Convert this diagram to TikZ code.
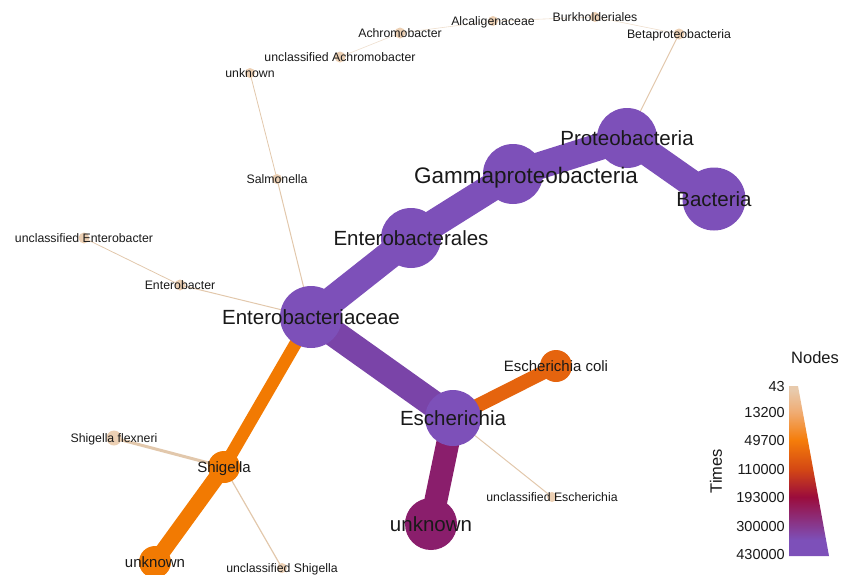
\documentclass[tikz,border=0pt]{standalone}
\usepackage{fontspec}
\setmainfont{Liberation Sans}
\usetikzlibrary{backgrounds}

% node / edge colours
\definecolor{taxpurple}{RGB}{125,80,185}
\definecolor{edgepurple}{RGB}{122,68,168}
\definecolor{taxmagenta}{RGB}{138,30,108}
\definecolor{taxorange}{RGB}{242,122,2}
\definecolor{taxdarkorange}{RGB}{229,100,14}
\definecolor{taxtan}{RGB}{236,208,180}
\definecolor{edgetan}{RGB}{226,200,172}
\definecolor{labelink}{RGB}{25,25,25}

% legend ramp (bottom to top)
\definecolor{rampE}{RGB}{125,80,185}
\definecolor{rampD}{RGB}{155,12,60}
\definecolor{rampC}{RGB}{212,72,20}
\definecolor{rampB}{RGB}{245,125,10}
\definecolor{rampAB}{RGB}{240,172,115}
\definecolor{rampA}{RGB}{232,202,172}
\pgfdeclareverticalshading{timesramp}{100bp}{color(0bp)=(rampE); color(25bp)=(rampE); color(29.7bp)=(rampE); color(42.4bp)=(rampD); color(50.6bp)=(rampC); color(59.1bp)=(rampB); color(67.4bp)=(rampAB); color(73.8bp)=(rampA); color(100bp)=(rampA)}

\begin{document}
\begin{tikzpicture}[x=1pt, y=-1pt,
        taxon/.style={circle, fill=#1, draw=none, inner sep=0pt},
        link/.style={draw=#1, line cap=round},
        biglabel/.style={font=\fontsize{20.5}{24}\selectfont, text=labelink, inner sep=0pt, text height=14.7pt, text depth=0pt},
        midlabel/.style={font=\fontsize{15}{18}\selectfont, text=labelink, inner sep=0pt, text height=10.7pt, text depth=0pt},
        smalllabel/.style={font=\fontsize{12.3}{15}\selectfont, text=labelink, inner sep=0pt, text height=8.8pt, text depth=0pt},
        ticklabel/.style={anchor=east, font=\fontsize{14.5}{17}\selectfont, text=labelink, inner sep=0pt},
    ]
    \useasboundingbox (0,0) rectangle (843,574);

    % ===== Main lineage =====
    \node[taxon=taxpurple, minimum size=63pt] (bacteria) at (714,199) {};
    \node[taxon=taxpurple, minimum size=60pt] (proteo) at (627,138) {};
    \node[taxon=taxpurple, minimum size=60pt] (gamma) at (513,174) {};
    \node[taxon=taxpurple, minimum size=60pt] (enterobacterales) at (411,238) {};
    \node[taxon=taxpurple, minimum size=62pt] (enterobacteriaceae) at (311,317) {};

    % ===== Escherichia branch =====
    \node[taxon=taxpurple, minimum size=56pt] (escherichia) at (453,418) {};
    \node[taxon=taxmagenta, minimum size=52pt] (eschunknown) at (431,524) {};
    \node[taxon=taxdarkorange, minimum size=32pt] (ecoli) at (556,366) {};
    \node[taxon=taxtan, minimum size=10pt] (unclesch) at (552,497) {};

    % ===== Shigella branch =====
    \node[taxon=taxorange, minimum size=32pt] (shigella) at (224,467) {};
    \node[taxon=taxorange, minimum size=32pt] (shigunknown) at (155,562) {};
    \node[taxon=taxtan, minimum size=15pt] (flexneri) at (114,438) {};
    \node[taxon=taxtan, minimum size=10pt] (unclshig) at (282,568) {};

    % ===== Minor taxa =====
    \node[taxon=taxtan, minimum size=11pt] (enterobacter) at (180,285) {};
    \node[taxon=taxtan, minimum size=11pt] (unclenterobacter) at (84,238) {};
    \node[taxon=taxtan, minimum size=10pt] (salmonella) at (277,179) {};
    \node[taxon=taxtan, minimum size=10pt] (topunknown) at (250,73) {};
    \node[taxon=taxtan, minimum size=11pt] (unclachromo) at (340,57) {};
    \node[taxon=taxtan, minimum size=11pt] (achromo) at (400,33) {};
    \node[taxon=taxtan, minimum size=10pt] (alcali) at (493,21) {};
    \node[taxon=taxtan, minimum size=10pt] (burkho) at (595,17) {};
    \node[taxon=taxtan, minimum size=11pt] (betaproteo) at (679,34) {};

    % ===== Edges (behind the nodes) =====
    \begin{scope}[on background layer]
        \draw[link=taxpurple, line width=27pt] (bacteria.center) -- (proteo.center);
        \draw[link=taxpurple, line width=27pt] (proteo.center) -- (gamma.center);
        \draw[link=taxpurple, line width=28pt] (gamma.center) -- (enterobacterales.center);
        \draw[link=taxpurple, line width=28pt] (enterobacterales.center) -- (enterobacteriaceae.center);
        \draw[link=edgepurple, line width=27pt] (enterobacteriaceae.center) -- (escherichia.center);
        \draw[link=taxmagenta, line width=23pt] (escherichia.center) -- (eschunknown.center);
        \draw[link=taxdarkorange, line width=14pt] (escherichia.center) -- (ecoli.center);
        \draw[link=edgetan, line width=1pt] (escherichia.center) -- (unclesch.center);
        \draw[link=taxorange, line width=12.5pt] (enterobacteriaceae.center) -- (shigella.center);
        \draw[link=taxorange, line width=16pt] (shigella.center) -- (shigunknown.center);
        \draw[link=edgetan, line width=3pt] (shigella.center) -- (flexneri.center);
        \draw[link=edgetan, line width=1.2pt] (shigella.center) -- (unclshig.center);
        \draw[link=edgetan, line width=1pt] (enterobacteriaceae.center) -- (enterobacter.center);
        \draw[link=edgetan, line width=0.8pt] (enterobacter.center) -- (unclenterobacter.center);
        \draw[link=edgetan, line width=1pt] (enterobacteriaceae.center) -- (salmonella.center);
        \draw[link=edgetan, line width=0.8pt] (salmonella.center) -- (topunknown.center);
        \draw[link=edgetan, line width=1pt] (proteo.center) -- (betaproteo.center);
        \draw[link=edgetan!60, line width=0.6pt] (betaproteo.center) -- (burkho.center);
        \draw[link=edgetan!60, line width=0.6pt] (burkho.center) -- (alcali.center);
        \draw[link=edgetan!60, line width=0.6pt] (alcali.center) -- (achromo.center);
        \draw[link=edgetan!60, line width=0.6pt] (achromo.center) -- (unclachromo.center);
    \end{scope}

    % ===== Labels =====
    \node[biglabel] (lbacteria) at (bacteria) {Bacteria};
    \node[biglabel] (lproteo) at (proteo) {Proteobacteria};
    \node[biglabel, font=\fontsize{22.5}{26}\selectfont, text height=16pt] (lgamma) at (526,175) {Gammaproteobacteria};
    \node[biglabel] (lenterobacterales) at (enterobacterales) {Enterobacterales};
    \node[biglabel] (lenterobacteriaceae) at (enterobacteriaceae) {Enterobacteriaceae};
    \node[biglabel] (lescherichia) at (escherichia) {Escherichia};
    \node[biglabel] (leschunknown) at (eschunknown) {unknown};
    \node[midlabel] (lecoli) at (ecoli) {Escherichia coli};
    \node[midlabel] (lshigella) at (shigella) {Shigella};
    \node[midlabel] (lshigunknown) at (shigunknown) {unknown};
    \node[smalllabel] (lunclesch) at (unclesch) {unclassified Escherichia};
    \node[smalllabel] (lflexneri) at (flexneri) {Shigella flexneri};
    \node[smalllabel] (lunclshig) at (unclshig) {unclassified Shigella};
    \node[smalllabel] (lenterobacter) at (enterobacter) {Enterobacter};
    \node[smalllabel] (lunclenterobacter) at (unclenterobacter) {unclassified Enterobacter};
    \node[smalllabel] (lsalmonella) at (salmonella) {Salmonella};
    \node[smalllabel] (ltopunknown) at (topunknown) {unknown};
    \node[smalllabel] (lunclachromo) at (unclachromo) {unclassified Achromobacter};
    \node[smalllabel] (lachromo) at (achromo) {Achromobacter};
    \node[smalllabel] (lalcali) at (alcali) {Alcaligenaceae};
    \node[smalllabel] (lburkho) at (burkho) {Burkholderiales};
    \node[smalllabel] (lbetaproteo) at (betaproteo) {Betaproteobacteria};

    % ===== Legend =====
    \shade[shading=timesramp] (789,386) -- (798,386) -- (829,556) -- (789,556) -- cycle;
    \node[font=\fontsize{16.5}{20}\selectfont, text=labelink] (legtitle) at (815,358) {Nodes};
    \node[font=\fontsize{16.5}{20}\selectfont, text=labelink, rotate=90] (legaxis) at (716,471) {Times};
    \node[ticklabel] at (785,386) {43};
    \node[ticklabel] at (785,412) {13200};
    \node[ticklabel] at (785,440) {49700};
    \node[ticklabel] at (785,469) {110000};
    \node[ticklabel] at (785,497) {193000};
    \node[ticklabel] at (785,526) {300000};
    \node[ticklabel] at (785,554) {430000};

\end{tikzpicture}
\end{document}
